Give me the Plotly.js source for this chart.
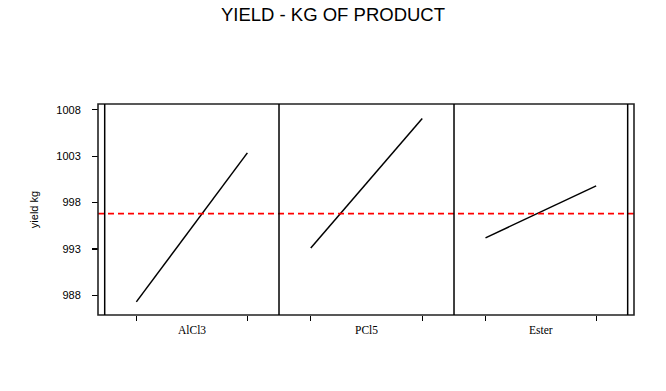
<!DOCTYPE html>
<html>
<head>
<meta charset="utf-8">
<script src="https://cdn.plot.ly/plotly-3.0.1.min.js"></script>
<style>html,body{margin:0;padding:0;background:#fff}#chart{width:666px;height:391px}</style>
</head>
<body>
<div id="chart"></div>
<script>
// Data
var factors = ["AlCl3", "PCl5", "Ester"];
var levels = [0, 1];
var meanAlCl3 = [987.3, 1003.35];
var meanPCl5 = [993.1, 1007.05];
var meanEster = [994.2, 999.8];
var grandMean = 996.8;
var yTicks = [988, 993, 998, 1003, 1008];

var series = [meanAlCl3, meanPCl5, meanEster];
var axisIds = ["x", "x2", "x3"];
var domains = [[0.0125, 0.3377], [0.3377, 0.6642], [0.6642, 0.9882]];

var traces = [];
series.forEach(function (s, i) {
  traces.push({
    type: "scatter", mode: "lines", x: levels, y: s,
    xaxis: axisIds[i], yaxis: "y",
    line: {color: "#000", width: 1.5}, hoverinfo: "skip", showlegend: false
  });
});

var layout = {
  width: 666, height: 391,
  margin: {l: 98, r: 32, t: 104, b: 76},
  paper_bgcolor: "#fff", plot_bgcolor: "#fff",
  font: {family: "Liberation Sans, Arial, sans-serif", color: "#000", size: 11},
  title: {
    text: "YIELD - KG OF PRODUCT",
    font: {family: "Liberation Sans, Arial, sans-serif", size: 18.5, color: "#000"},
    x: 0.5, xref: "container", xanchor: "center",
    y: 0.964, yref: "container", yanchor: "middle"
  },
  yaxis: {
    anchor: "free", position: 0,
    range: [985.89, 1008.61],
    tickvals: yTicks, ticktext: yTicks.map(String),
    ticks: "outside", ticklen: 6, tickwidth: 1.2, tickcolor: "#000",
    ticklabelstandoff: 9,
    showgrid: false, zeroline: false, showline: false,
    tickfont: {size: 11, family: "Liberation Sans, Arial, sans-serif"},
    title: {text: "yield kg", standoff: 14, font: {size: 11, family: "Liberation Sans, Arial, sans-serif"}}
  },
  shapes: [],
  annotations: []
};

axisIds.forEach(function (id, i) {
  var key = i === 0 ? "xaxis" : "xaxis" + (i + 1);
  layout[key] = {
    domain: domains[i], anchor: "y",
    range: [-0.285, 1.285],
    tickvals: levels, showticklabels: false,
    ticks: "outside", ticklen: 5, tickwidth: 1.2, tickcolor: "#000",
    showgrid: false, zeroline: false, showline: false, fixedrange: true
  };
  layout.annotations.push({
    text: factors[i], xref: id, yref: "paper", x: 0.5, y: -0.073,
    xanchor: "center", yanchor: "middle", showarrow: false,
    font: {family: "Liberation Serif, Times New Roman, serif", size: 11.5, color: "#000"}
  });
});

// grand-mean reference line
layout.shapes.push({
  type: "line", xref: "paper", yref: "y", x0: 0, x1: 1, y0: grandMean, y1: grandMean,
  line: {color: "#ff0000", width: 1.8, dash: "6px,4px"}, layer: "above"
});
// frame
layout.shapes.push({
  type: "rect", xref: "paper", yref: "paper", x0: 0, x1: 1, y0: 0, y1: 1,
  line: {color: "#222", width: 1.6}
});
[0.0125, 0.3377, 0.6642, 0.9882].forEach(function (xp) {
  layout.shapes.push({
    type: "line", xref: "paper", yref: "paper", x0: xp, x1: xp, y0: 0, y1: 1,
    line: {color: "#000", width: 1.5}
  });
});

Plotly.newPlot("chart", traces, layout, {displayModeBar: false, staticPlot: true});
</script>
</body>
</html>
